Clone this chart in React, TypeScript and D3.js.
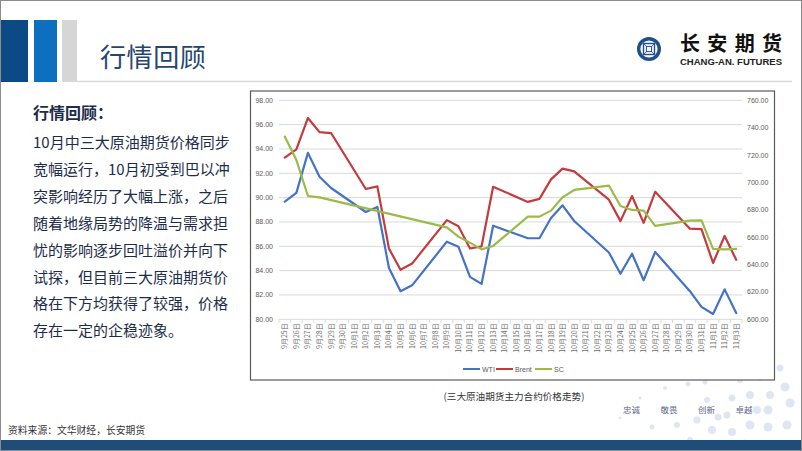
import React from "react";
import * as d3 from "d3";

const dates = ["9月25日","9月26日","9月27日","9月28日","9月29日","9月30日","10月1日","10月2日","10月3日","10月4日","10月5日","10月6日","10月7日","10月8日","10月9日","10月10日","10月11日","10月12日","10月13日","10月14日","10月15日","10月16日","10月17日","10月18日","10月19日","10月20日","10月21日","10月22日","10月23日","10月24日","10月25日","10月26日","10月27日","10月28日","10月29日","10月30日","10月31日","11月1日","11月2日","11月3日"];

const wti: (number | null)[] = [89.68, 90.39, 93.68, 91.71, 90.79, null, null, 88.82, 89.23, 84.22, 82.31, 82.79, null, null, 86.38, 85.97, 83.49, 82.91, 87.69, null, null, 86.66, 86.66, 88.32, 89.37, 88.08, null, null, 85.49, 83.74, 85.39, 83.21, 85.54, null, null, 82.31, 81.02, 80.44, 82.46, 80.51];
const brent: (number | null)[] = [93.29, 93.96, 96.55, 95.38, 95.31, null, null, 90.71, 90.92, 85.81, 84.07, 84.58, null, null, 88.15, 87.65, 85.82, 86.0, 90.89, null, null, 89.65, 89.9, 91.5, 92.38, 92.16, null, null, 89.83, 88.07, 90.13, 87.93, 90.48, null, null, 87.45, 87.41, 84.63, 86.85, 84.89];
const sc: (number | null)[] = [733.5, 716.4, 690.1, 689.1, null, null, null, null, null, null, null, null, null, null, 667.2, 660.4, 656.0, 651.1, 653.6, null, null, 675.0, 675.0, 679.4, 689.1, 694.5, null, null, 697.7, 682.8, 679.9, 679.4, 668.2, null, null, 672.1, 672.3, 651.4, 651.1, 651.4];

const leftTicks = [80, 82, 84, 86, 88, 90, 92, 94, 96, 98];
const rightTicks = [600, 620, 640, 660, 680, 700, 720, 740, 760];

const seriesNames = ["WTI", "Brent", "SC"];
const seriesColors = ["#4472c4", "#c33b3e", "#9bbb48"];

const paragraph = [
  "10月中三大原油期货价格同步",
  "宽幅运行，10月初受到巴以冲",
  "突影响经历了大幅上涨，之后",
  "随着地缘局势的降温与需求担",
  "忧的影响逐步回吐溢价并向下",
  "试探，但目前三大原油期货价",
  "格在下方均获得了较强，价格",
  "存在一定的企稳迹象。",
];

const mottos = ["忠诚", "敬畏", "创新", "卓越"];

const dots: [number, number, number][] = [
  [780, 368, 3.5], [785, 387, 4.5], [790, 403, 4.5], [787, 425, 4.5], [770, 395, 4], [768, 410, 4.5],
  [768, 427, 4.5], [750, 395, 4], [750, 425, 4.5], [732, 398, 3.5], [732, 432, 4], [727, 415, 3.5],
  [712, 430, 4], [697, 420, 3.5], [677, 425, 3], [652, 427, 2.5], [665, 388, 2], [688, 384, 2.5],
  [707, 400, 3], [705, 382, 2.5], [718, 417, 3.5], [740, 380, 3], [757, 410, 4], [760, 378, 3],
  [640, 398, 1.5], [620, 418, 1.5], [690, 440, 3], [745, 443, 3.5], [780, 444, 4],
];

const CJK = "'Noto Sans CJK SC', 'Noto Sans', sans-serif";
const LAT = "'Liberation Sans', Arial, 'Noto Sans CJK SC', sans-serif";

export default function App() {
  const plotL = 279, plotR = 742, plotT = 100.3, plotB = 319.3;
  const x = d3.scaleBand<number>().domain(dates.map((_, i) => i)).range([plotL, plotR]);
  const bw = x.bandwidth();
  const cx = (i: number) => (x(i) as number) + bw / 2;
  const yL = d3.scaleLinear().domain([80, 98]).range([plotB, plotT]);
  const yR = d3.scaleLinear().domain([600, 760]).range([plotB, plotT]);

  const mkPath = (vals: (number | null)[], y: d3.ScaleLinear<number, number>) => {
    const pts = vals.map((v, i) => [i, v] as [number, number | null]).filter((p) => p[1] !== null) as [number, number][];
    return d3.line<[number, number]>().x((p) => cx(p[0])).y((p) => y(p[1]))(pts) || "";
  };
  const paths = [mkPath(wti, yL), mkPath(brent, yL), mkPath(sc, yR)];

  const legendItems = [
    { x1: 463, x2: 480, tx: 482 },
    { x1: 496, x2: 513, tx: 515 },
    { x1: 535, x2: 552, tx: 554 },
  ];

  return (
    <svg width={802} height={451} style={{ position: "absolute", left: 0, top: 0, background: "#fff" }}>
      <rect x={0} y={0} width={802} height={451} fill="#fff" />
      {dots.map((d, i) => (
        <circle key={i} cx={d[0]} cy={d[1]} r={d[2]} fill="#dfe5f1" />
      ))}
      <rect x={0} y={20} width={28} height={62} fill="#0c4a86" />
      <rect x={34} y={20} width={23} height={62} fill="#0d6fbf" />
      <rect x={62} y={20} width={15} height={62} fill="#d6d6d6" />
      <line x1={77} y1={81.5} x2={792} y2={81.5} stroke="#d9d9d9" strokeWidth={1.5} />
      <text x={100} y={67} fontFamily={CJK} fontSize={26} fill="#27466f" letterSpacing={0.6}>行情回顾</text>
      <g transform="translate(649,49)">
        <circle r={12} fill="#1f4f8c" />
        <circle r={8.6} fill="#fff" />
        <rect x={-5.5} y={-5.5} width={11} height={11} fill="none" stroke="#1f4f8c" strokeWidth={1.4} />
        <rect x={-2.6} y={-2.6} width={5.2} height={5.2} fill="none" stroke="#1f4f8c" strokeWidth={1} />
        <line x1={-5.5} y1={-5.5} x2={-2.6} y2={-2.6} stroke="#1f4f8c" strokeWidth={0.8} />
        <line x1={5.5} y1={-5.5} x2={2.6} y2={-2.6} stroke="#1f4f8c" strokeWidth={0.8} />
        <line x1={-5.5} y1={5.5} x2={-2.6} y2={2.6} stroke="#1f4f8c" strokeWidth={0.8} />
        <line x1={5.5} y1={5.5} x2={2.6} y2={2.6} stroke="#1f4f8c" strokeWidth={0.8} />
      </g>
      <text x={680} y={51} fontFamily={CJK} fontWeight={700} fontSize={20} fill="#111" textLength={102} lengthAdjust="spacing">长安期货</text>
      <text x={680} y={64.5} fontFamily={LAT} fontWeight={700} fontSize={8.4} fill="#222" textLength={102} lengthAdjust="spacingAndGlyphs">CHANG-AN. FUTURES</text>

      <text x={33} y={119} fontFamily={CJK} fontWeight={700} fontSize={16} fill="#1b2d4a">行情回顾：</text>
      {paragraph.map((t, i) => (
        <text key={i} x={33} y={148 + i * 26.9} fontFamily={CJK} fontSize={15} fill="#1b2d4a">{t}</text>
      ))}

      <rect x={250.5} y={91} width={524} height={289} fill="#fff" stroke="#5a5a5a" strokeWidth={1.2} />
      {leftTicks.map((t) => (
        <line key={t} x1={plotL} x2={plotR} y1={yL(t)} y2={yL(t)} stroke="#d9d9d9" strokeWidth={1} />
      ))}
      {dates.map((_, i) => (
        <line key={"tk" + i} x1={x(i) as number} x2={x(i) as number} y1={plotB} y2={plotB + 3.5} stroke="#d9d9d9" strokeWidth={1} />
      ))}
      <line x1={plotR} x2={plotR} y1={plotB} y2={plotB + 3.5} stroke="#d9d9d9" strokeWidth={1} />
      {leftTicks.map((t) => (
        <text key={"l" + t} x={273} y={yL(t) + 2.5} textAnchor="end" fontFamily={LAT} fontSize={7} fill="#595959">{d3.format(".2f")(t)}</text>
      ))}
      {rightTicks.map((t) => (
        <text key={"r" + t} x={747} y={yR(t) + 2.5} textAnchor="start" fontFamily={LAT} fontSize={7} fill="#595959">{d3.format(".2f")(t)}</text>
      ))}
      {dates.map((d, i) => (
        <text key={"d" + i} transform={`translate(${cx(i) + 2.5},${plotB + 4}) rotate(-90)`} textAnchor="end" fontFamily={CJK} fontSize={7} fill="#6a6a6a">{d}</text>
      ))}
      {paths.map((p, i) => (
        <path key={"p" + i} d={p} fill="none" stroke={seriesColors[i]} strokeWidth={2.2} strokeLinejoin="round" strokeLinecap="round" />
      ))}
      {legendItems.map((l, i) => (
        <g key={"lg" + i}>
          <line x1={l.x1} x2={l.x2} y1={369} y2={369} stroke={seriesColors[i]} strokeWidth={2} />
          <text x={l.tx} y={371.5} fontFamily={LAT} fontSize={7} fill="#595959">{seriesNames[i]}</text>
        </g>
      ))}

      <text x={514} y={400} textAnchor="middle" fontFamily={CJK} fontSize={9.6} fill="#333">(三大原油期货主力合约价格走势)</text>
      {mottos.map((m, i) => (
        <text key={"m" + i} x={623 + i * 37.5} y={413} fontFamily={CJK} fontSize={8.5} fill="#5b6784">{m}</text>
      ))}
      <text x={8} y={434} fontFamily={CJK} fontSize={9.8} fill="#333">资料来源：文华财经，长安期货</text>
      <rect x={0} y={440} width={802} height={11} fill="#1f4d78" />
      <rect x={0.5} y={0.5} width={801} height={450} fill="none" stroke="#8c8c8c" strokeWidth={1} />
    </svg>
  );
}
